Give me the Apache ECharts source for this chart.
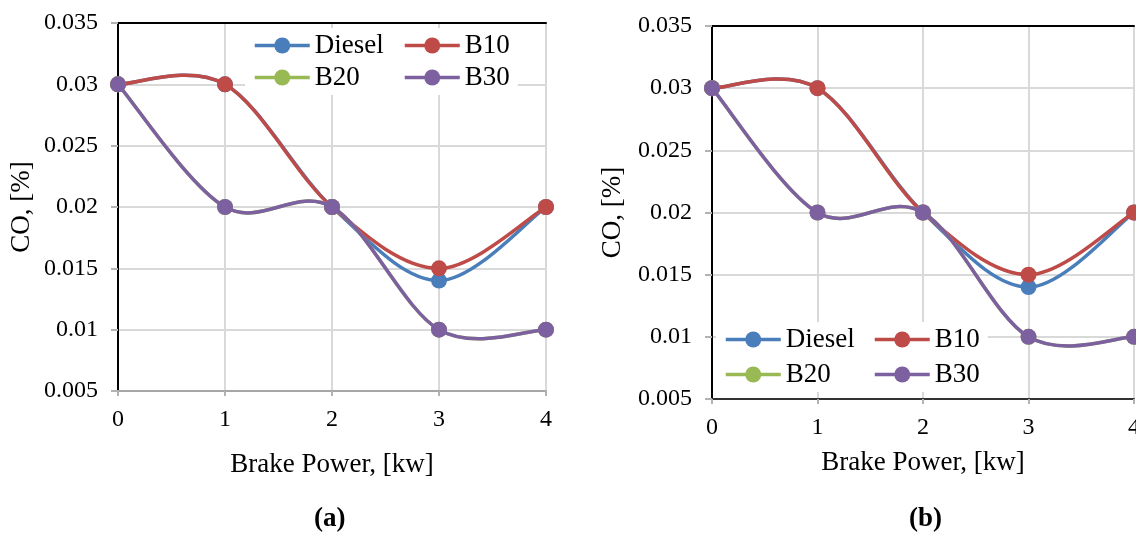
<!DOCTYPE html>
<html>
<head>
<meta charset="utf-8">
<script src="https://cdn.jsdelivr.net/npm/echarts@6/dist/echarts.min.js"></script>
<style>
  html, body { margin: 0; padding: 0; background: #fff; }
  #main { width: 1136px; height: 533px; }
</style>
</head>
<body>
<div id="main"></div>
<script>
// data (same values in both panels)
const brakePower = [0, 1, 2, 3, 4];
const diesel = [0.03, 0.03, 0.02, 0.014, 0.02];
const b10 = [0.03, 0.03, 0.02, 0.015, 0.02];
const b20 = [0.03, 0.02, 0.02, 0.01, 0.01];
const b30 = [0.03, 0.02, 0.02, 0.01, 0.01];

const fuelNames = ['Diesel', 'B10', 'B20', 'B30'];
const fuelColors = ['#4a7ebb', '#be4b48', '#98b954', '#7d60a0'];
const fuelValues = [diesel, b10, b20, b30];

const font = "'Liberation Serif', 'Times New Roman', serif";
const chart = echarts.init(document.getElementById('main'));

// Excel-like smoothed line: cubic bezier per segment, Catmull-Rom style tangents,
// every point converted by the axes through api.coord
function smoothSegment(values, color) {
  const n = brakePower.length;
  return function (params, api) {
    const i = params.dataIndex;
    if (i >= n - 1) return null;
    const pt = j => {
      j = Math.max(0, Math.min(n - 1, j));
      return api.coord([brakePower[j], values[j]]);
    };
    const p0 = pt(i - 1), p1 = pt(i), p2 = pt(i + 1), p3 = pt(i + 2);
    return {
      type: 'bezierCurve',
      shape: {
        x1: p1[0], y1: p1[1], x2: p2[0], y2: p2[1],
        cpx1: p1[0] + (p2[0] - p0[0]) / 6, cpy1: p1[1] + (p2[1] - p0[1]) / 6,
        cpx2: p2[0] - (p3[0] - p1[0]) / 6, cpy2: p2[1] - (p3[1] - p1[1]) / 6
      },
      style: { stroke: color, lineWidth: 3.5, fill: null, lineCap: 'round' }
    };
  };
}

const grids = [
  { left: 118, top: 23, right: 590, bottom: 142, outerBoundsMode: 'none' },
  { left: 712, top: 26, right: 2, bottom: 134, outerBoundsMode: 'none' }
];

let xAxes = [], yAxes = [], markerSeries = [], curveSeries = [];
grids.forEach((g, i) => {
  xAxes.push({
    type: 'value', gridIndex: i, min: 0, max: 4, interval: 1,
    name: 'Brake Power, [kw]', nameLocation: 'middle', nameGap: i === 0 ? 60 : 50,
    nameTextStyle: { fontFamily: font, fontSize: 27, color: '#000' },
    axisLine: { lineStyle: { color: i === 0 ? '#a6a6a6' : '#333', width: 2 } },
    axisTick: { show: true, length: 5, lineStyle: { color: '#b3b3b3', width: 2 } },
    axisLabel: { fontFamily: font, fontSize: 24, color: '#000', margin: 17 },
    splitLine: { lineStyle: { color: '#d9d9d9', width: 2 } }
  });
  xAxes.push({
    type: 'value', gridIndex: i, position: 'top', min: 0, max: 4, interval: 1,
    axisLine: { lineStyle: { color: '#000', width: 2 } },
    axisTick: { show: false }, axisLabel: { show: false }, splitLine: { show: false }
  });
  yAxes.push({
    type: 'value', gridIndex: i, min: 0.005, max: 0.035, interval: 0.005,
    name: 'CO, [%]', nameLocation: 'middle', nameGap: i === 0 ? 83 : 86,
    nameTextStyle: { fontFamily: font, fontSize: 27, color: '#000' },
    axisLine: { show: true, lineStyle: { color: '#a6a6a6', width: 2 } },
    axisTick: { show: true, length: 7, lineStyle: { color: '#b3b3b3', width: 2 } },
    axisLabel: { fontFamily: font, fontSize: 24, color: '#000', margin: 20,
      formatter: v => String(+v.toFixed(3)) },
    splitLine: { lineStyle: { color: '#d9d9d9', width: 2 } }
  });
  yAxes.push({
    type: 'value', gridIndex: i, position: 'right', min: 0.005, max: 0.035, interval: 0.005,
    axisLine: { show: true, lineStyle: { color: '#000', width: 2 } },
    axisTick: { show: false }, axisLabel: { show: false }, splitLine: { show: false }
  });
  fuelNames.forEach((name, k) => {
    const pts = brakePower.map((x, j) => [x, fuelValues[k][j]]);
    markerSeries.push({
      name: name, type: 'line', xAxisIndex: i * 2, yAxisIndex: i * 2,
      data: pts, symbol: 'circle', symbolSize: 16,
      itemStyle: { color: fuelColors[k] },
      lineStyle: { color: fuelColors[k], width: 3.5, opacity: 0 },
      z: 3 + 2 * k
    });
    curveSeries.push({
      name: name, type: 'custom', xAxisIndex: i * 2, yAxisIndex: i * 2,
      data: pts, encode: { x: 0, y: 1 },
      renderItem: smoothSegment(fuelValues[k], fuelColors[k]),
      itemStyle: { color: fuelColors[k] },
      z: 2 + 2 * k
    });
  });
});

function legendCol(names, left, top, gap, padding) {
  return {
    data: names, orient: 'vertical', left: left, top: top,
    itemWidth: 55, itemHeight: 20, itemGap: gap,
    backgroundColor: '#fff', padding: padding, z: 20,
    lineStyle: { opacity: 1, width: 3.5 },
    textStyle: { fontFamily: font, fontSize: 27, color: '#000' }
  };
}

chart.setOption({
  animation: false,
  grid: grids,
  xAxis: xAxes,
  yAxis: yAxes,
  series: markerSeries.concat(curveSeries),
  legend: [
    legendCol(['Diesel', 'B20'], 245, 28, 5, [4, 16, 4, 8]),
    legendCol(['B10', 'B30'], 395, 28, 5, [4, 8, 4, 8]),
    legendCol(['Diesel', 'B20'], 716, 322, 8, [4, 16, 4, 8]),
    legendCol(['B10', 'B30'], 865, 322, 8, [4, 8, 4, 8])
  ],
  graphic: [
    { type: 'text', left: 314, top: 506,
      style: { text: '(a)', font: 'bold 27px ' + font, fill: '#000' } },
    { type: 'text', left: 909, top: 506,
      style: { text: '(b)', font: 'bold 27px ' + font, fill: '#000' } }
  ]
});
</script>
</body>
</html>
